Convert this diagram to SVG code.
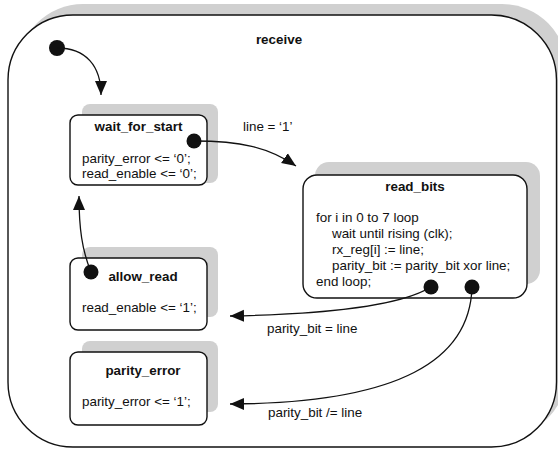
<svg xmlns="http://www.w3.org/2000/svg" width="558" height="450" viewBox="0 0 558 450">
<defs>
<style>
.shadow{fill:#d0d0d0;stroke:none}
.box{fill:#fff;stroke:#111;stroke-width:1.4}
.title{font-family:"Liberation Sans",Arial,sans-serif;font-size:13.4px;font-weight:bold;fill:#111;text-anchor:middle}
.txt{font-family:"Liberation Sans",Arial,sans-serif;font-size:13.4px;fill:#111}
.dot{fill:#111}
.conn{fill:none;stroke:#111;stroke-width:1.3}
</style>
<marker id="arr" markerUnits="userSpaceOnUse" markerWidth="16" markerHeight="14" viewBox="0 0 16 14" refX="14" refY="7" orient="auto">
<path d="M0,1 L14,7 L0,13 Z" fill="#111"/>
</marker>
</defs>
<g id="receive">
<rect class="shadow" x="18" y="4" width="549" height="433" rx="65" ry="65"/>
<rect class="box" x="8" y="15" width="548.5" height="432" rx="65" ry="65" stroke-width="1.6"/>
<text class="title" x="279" y="44">receive</text>
</g>
<g id="initial">
<circle class="dot" cx="57" cy="48" r="8"/>
</g>
<g id="wait_for_start">
<rect class="shadow" x="82" y="104" width="136" height="79" rx="8"/>
<rect class="box" x="70" y="115" width="137" height="70" rx="8"/>
<text class="title" x="138.5" y="131">wait_for_start</text>
<text class="txt" x="82" y="163">parity_error &lt;= ‘0’;</text>
<text class="txt" x="82" y="178">read_enable &lt;= ‘0’;</text>
<circle class="dot" cx="194" cy="141" r="7.5"/>
</g>
<g id="read_bits">
<rect class="shadow" x="315" y="162" width="225" height="122" rx="14"/>
<rect class="box" x="303" y="175" width="224" height="123" rx="14"/>
<text class="title" x="415" y="191">read_bits</text>
<text class="txt" x="316" y="222">for i in 0 to 7 loop</text>
<text class="txt" x="332" y="238">wait until rising (clk);</text>
<text class="txt" x="332" y="254">rx_reg[i] := line;</text>
<text class="txt" x="332" y="270">parity_bit := parity_bit xor line;</text>
<text class="txt" x="316" y="286">end loop;</text>
<circle class="dot" cx="431" cy="287" r="7.5"/>
<circle class="dot" cx="472" cy="287" r="7.5"/>
</g>
<g id="allow_read">
<rect class="shadow" x="82" y="247" width="136" height="70" rx="8"/>
<rect class="box" x="70" y="258" width="137" height="72" rx="8"/>
<text class="title" x="143" y="281">allow_read</text>
<text class="txt" x="82" y="312">read_enable &lt;= ‘1’;</text>
<circle class="dot" cx="91" cy="272" r="7.5"/>
</g>
<g id="parity_error">
<rect class="shadow" x="82" y="341" width="136" height="71" rx="8"/>
<rect class="box" x="70" y="352" width="137" height="73" rx="8"/>
<text class="title" x="143" y="375">parity_error</text>
<text class="txt" x="82" y="406">parity_error &lt;= ‘1’;</text>
</g>
<g id="connectors">
<path class="conn" d="M57,48 C 86,48 101,66 101,95" marker-end="url(#arr)"/>
<path class="conn" d="M194,141 C 240,141 268,147 296,166" marker-end="url(#arr)"/>
<path class="conn" d="M91,272 C 82,250 79,228 79,196" marker-end="url(#arr)"/>
<path class="conn" d="M431,287 C 400,306 330,314 230,316" marker-end="url(#arr)"/>
<path class="conn" d="M472,287 C 470,360 400,403 230,404" marker-end="url(#arr)"/>
<text class="txt" x="243" y="131">line = ‘1’</text>
<text class="txt" x="267" y="333">parity_bit = line</text>
<text class="txt" x="268" y="417">parity_bit /= line</text>
</g>
</svg>
